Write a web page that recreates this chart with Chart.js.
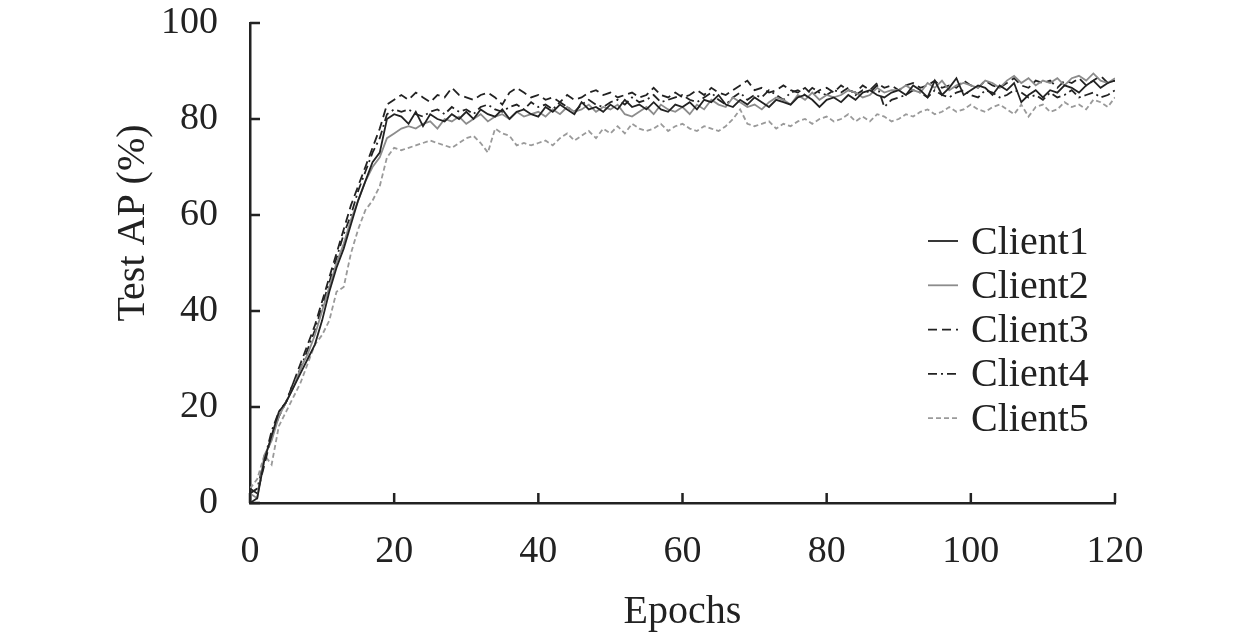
<!DOCTYPE html>
<html>
<head>
<meta charset="utf-8">
<script src="https://cdn.jsdelivr.net/npm/chart.js@4.4.1/dist/chart.umd.min.js"></script>
<style>
  body { margin: 0; background: #fff; }
  canvas { display: block; }
</style>
</head>
<body>
<canvas id="myChart" width="1259" height="638"></canvas>
<script>
// epochs on x, AP values
var epochs = Array.from({length: 121}, (v, i) => i);
var xTicks = [0, 20, 40, 60, 80, 100, 120];
var yTicks = [0, 20, 40, 60, 80, 100];
var names = ['Client1', 'Client2', 'Client3', 'Client4', 'Client5'];

var client1 = [0, 1, 9, 14, 19, 21, 24, 27, 30, 33, 38, 44, 49, 53, 58, 63, 67, 71, 73, 80,
  81, 80.5, 79, 81.5, 78.5, 81, 80, 79.5, 81, 80,
  81.5, 80, 82, 81, 80.5, 82, 80, 81.5, 82, 81,
  80.5, 82.5, 81.5, 83, 82, 81, 83.5, 82, 82.5, 81.5,
  83, 82, 84, 82.5, 83, 82, 83.5, 82, 81.5, 83,
  82.5, 83.5, 82, 84, 83.5, 85, 83, 82.5, 84, 83,
  84.5, 83.5, 82.5, 84, 83.5, 83, 84.5, 85, 84, 82.5,
  84, 84.5, 83.5, 85, 84, 85.5, 86, 85, 84.5, 85.5,
  86, 85, 87, 86, 84.5, 88, 85, 86.5, 88.5, 85,
  86, 87, 86.5, 85, 87, 86, 87.5, 83.5, 85, 86,
  84.5, 86, 85.5, 87, 86.5, 85.5, 87, 88, 86.5, 87.5,
  88];
var client2 = [2, 1, 10, 13, 18, 21, 24, 28, 31, 35, 40, 45, 50, 54, 59, 63, 67, 70, 72, 76,
  77, 78, 78.5, 78, 79, 79.5, 78, 80, 79.5, 80.5,
  79, 80, 81, 79.5, 80.5, 81, 80, 81.5, 80.5, 81,
  81.5, 80.5, 82, 81, 82.5, 81.5, 82, 83, 81.5, 82.5,
  82, 83, 81, 80.5, 81.5, 82.5, 81, 83, 82, 81.5,
  82.5, 81, 83, 82, 84, 83, 82.5, 84.5, 83.5, 82.5,
  83, 82, 83.5, 84.5, 84, 83, 85, 84, 85.5, 84,
  85, 84.5, 85, 86, 85.5, 84.5, 85, 86.5, 85.5, 86,
  86, 87, 86, 85.5, 87.5, 86.5, 88, 86, 87, 87.5,
  87, 86.5, 88, 87.5, 86.5, 88, 89, 87.5, 88.5, 87,
  88, 87.5, 88.5, 87, 88.5, 89, 88, 89.5, 88, 87.5,
  88.5];
var client3 = [3, 2, 8, 14, 18, 21, 25, 29, 33, 37, 42, 47, 52, 57, 62, 66, 70, 74, 78, 83,
  84, 85, 84, 85.5, 84.5, 83.5, 85, 84.5, 86.5, 85,
  84.5, 84, 85, 85.5, 84.5, 83, 85.5, 86.5, 85.5, 84.5,
  85, 84, 84.5, 83.5, 85, 84, 84.5, 85.5, 86, 85,
  85.5, 84.5, 85, 85.5, 84.5, 85, 86.5, 85, 84.5, 85.5,
  84.5, 85, 86, 85, 86.5, 85.5, 85, 86, 87, 88,
  86, 86.5, 85.5, 86, 87, 86, 85.5, 86.5, 85, 86,
  86.5, 85.5, 87, 86, 85.5, 87, 86, 87.5, 86.5, 87,
  86, 87, 87.5, 86.5, 87, 88, 86.5, 87, 86.5, 88,
  87, 86.5, 88, 87, 86.5, 87.5, 88.5, 87, 86.5, 88,
  87.5, 88, 86.5, 88, 87.5, 88.5, 87, 88, 89, 87.5,
  88];
var client4 = [2, 3, 9, 15, 19, 21, 25, 28, 32, 36, 41, 46, 51, 56, 60, 65, 69, 73, 76, 81,
  82, 81.5, 82, 81, 80.5, 81.5, 82, 81, 82.5, 81.5,
  82, 81, 82.5, 83, 82, 81.5, 82.5, 83, 82, 83.5,
  82.5, 83, 82, 83.5, 82.5, 81.5, 83, 84, 83, 82.5,
  83.5, 84, 83, 84.5, 83.5, 84, 85, 83.5, 84, 84.5,
  85, 84, 83.5, 84.5, 85.5, 84, 83, 84.5, 85.5, 84,
  85, 84.5, 86, 85, 84, 85.5, 86, 85, 86.5, 85.5,
  85, 86, 85.5, 86.5, 85, 86, 85.5, 87, 82.5, 84,
  84.5, 85, 86, 85.5, 84.5, 86, 85, 84.5, 85.5, 86,
  85, 84.5, 86, 85.5, 84.5, 85, 86, 85.5, 84.5, 85,
  84, 85.5, 84.5, 85, 86, 84.5, 85, 85.5, 84.5, 85,
  86];
var client5 = [3, 5, 10, 8, 16, 19, 22, 25, 29, 33, 35, 38, 44, 45, 52, 57, 61, 63, 66, 72,
  74, 73.5, 74, 74.5, 75, 75.5, 75, 74.5, 74, 75,
  76, 76.5, 75, 73, 78, 77, 76.5, 74.5, 75, 74.5,
  75, 75.5, 74.5, 76, 77, 75.5, 76.5, 77.5, 76, 78,
  77, 78.5, 77, 79, 78, 77.5, 78, 79, 77.5, 78.5,
  79, 78, 77.5, 78.5, 78, 77.5, 78.5, 80, 82, 79,
  78.5, 79, 79.5, 78, 79, 78.5, 79.5, 80, 79, 80,
  80.5, 79.5, 80, 81, 79.5, 80.5, 79.5, 81, 80.5, 79.5,
  80, 81, 80.5, 81.5, 82, 81, 81.5, 82.5, 81.5, 82,
  83, 82, 81.5, 82.5, 83, 82, 81, 83, 80.5, 82.5,
  83, 81.5, 82, 83.5, 82.5, 83, 82, 84, 83.5, 82.5,
  84.5];

var series = [client1, client2, client3, client4, client5];
var colors = ['#222222', '#8c8c8c', '#222222', '#222222', '#9a9a9a'];
var dashes = [[], [], [9, 5], [9, 4, 2, 4], [5, 3]];

var FONT = '"Liberation Serif", "Times New Roman", serif';

var datasets = series.map(function(s, k) {
  return {
    label: names[k],
    data: s.map(function(v, i) { return {x: epochs[i], y: v}; }),
    borderColor: colors[k],
    borderWidth: 1.8,
    borderDash: dashes[k],
    pointRadius: 0,
    tension: 0,
    fill: false
  };
});

// inward tick marks, y title and legend inside the plot
var extras = {
  id: 'extras',
  afterDraw: function(chart) {
    var c = chart.ctx, xs = chart.scales.x, ys = chart.scales.y, a = chart.chartArea;
    c.save();
    c.strokeStyle = '#222';
    c.lineWidth = 2.5;
    c.beginPath();
    xTicks.forEach(function(t) {
      var px = xs.getPixelForValue(t);
      c.moveTo(px, a.bottom);
      c.lineTo(px, a.bottom - 10);
    });
    yTicks.forEach(function(t) {
      var py = ys.getPixelForValue(t);
      c.moveTo(a.left, py);
      c.lineTo(a.left + 10, py);
    });
    c.stroke();

    c.fillStyle = '#222';
    c.font = '40px ' + FONT;
    c.textAlign = 'center';
    c.textBaseline = 'middle';
    c.translate(133, 223);
    c.rotate(-Math.PI / 2);
    c.fillText('Test AP (%)', 0, 0);
    c.restore();

    c.save();
    c.font = '40px ' + FONT;
    c.textBaseline = 'middle';
    c.textAlign = 'left';
    names.forEach(function(n, k) {
      var y = 241 + k * 44.3;
      c.strokeStyle = colors[k];
      c.lineWidth = 1.8;
      c.setLineDash(dashes[k]);
      c.beginPath();
      c.moveTo(928, y);
      c.lineTo(958, y);
      c.stroke();
      c.setLineDash([]);
      c.fillStyle = '#222';
      c.fillText(n, 971, y + 2);
    });
    c.restore();
  }
};

var ctx = document.getElementById('myChart');
var config = {
  type: 'line',
  data: { datasets: datasets },
  options: {
    responsive: false,
    animation: false,
    layout: { padding: { top: 23, right: 144, left: 0, bottom: 0 } },
    plugins: { legend: { display: false }, tooltip: { enabled: false } },
    scales: {
      x: {
        type: 'linear',
        min: 0, max: 120,
        afterFit: function(s) { s.height = 135; s.paddingLeft = 0; s.paddingRight = 0; },
        afterBuildTicks: function(s) { s.ticks = xTicks.map(function(v) { return {value: v}; }); },
        grid: { display: false, drawTicks: false },
        border: { color: '#222', width: 2.5 },
        ticks: { color: '#222', font: { family: FONT, size: 38 }, padding: 26, maxRotation: 0 },
        title: { display: true, text: 'Epochs', color: '#222', font: { family: FONT, size: 40 }, padding: { top: 0, bottom: 2 } }
      },
      y: {
        min: 0, max: 100,
        afterFit: function(s) { s.width = 250; s.paddingTop = 0; s.paddingBottom = 0; },
        afterBuildTicks: function(s) { s.ticks = yTicks.map(function(v) { return {value: v}; }); },
        grid: { display: false, drawTicks: false },
        border: { color: '#222', width: 2.5 },
        ticks: { color: '#222', font: { family: FONT, size: 38 }, padding: 32 }
      }
    }
  },
  plugins: [extras]
};
var myChart = new Chart(ctx, config);
</script>
</body>
</html>
